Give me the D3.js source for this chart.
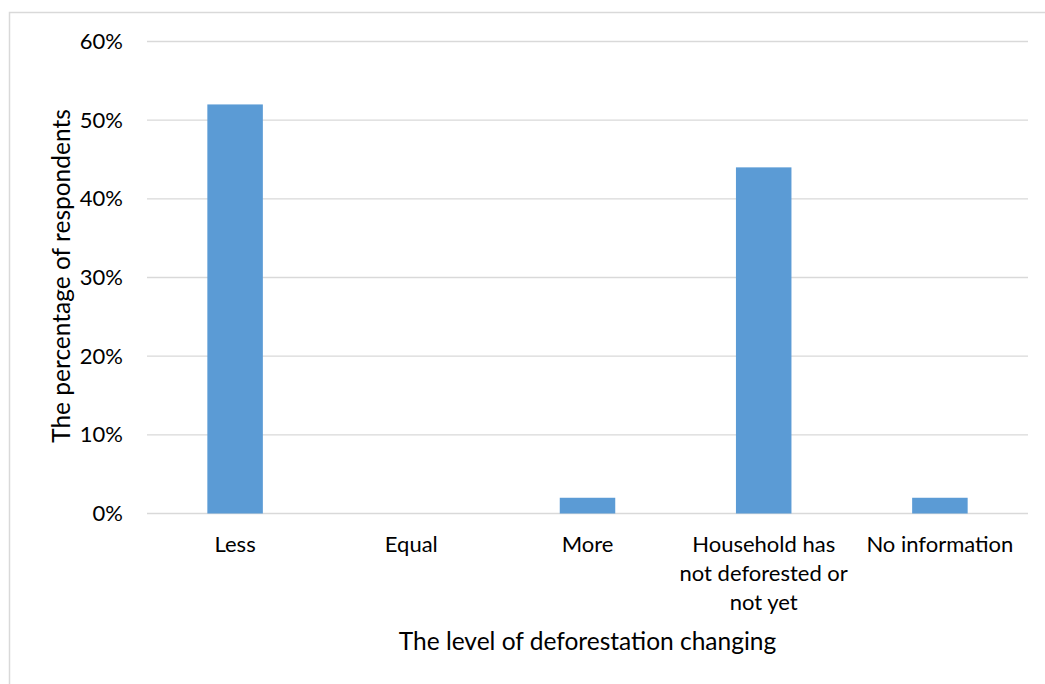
<!DOCTYPE html>
<html><head><meta charset="utf-8">
<script src="https://cdn.jsdelivr.net/npm/d3@7"></script>
<style>body{margin:0;background:#fff;} svg{display:block;} text{font-family:Lato, "Open Sans", sans-serif;fill:#000;}</style>
</head><body>
<svg id="c" width="1045" height="684"></svg>
<script>
const categories = ["Less", "Equal", "More", "Household has not deforested or not yet", "No information"];
const categoryLines = [["Less"], ["Equal"], ["More"], ["Household has", "not deforested or", "not yet"], ["No information"]];
const values = [0.52, 0, 0.02, 0.44, 0.02];
const yTicks = [0, 0.1, 0.2, 0.3, 0.4, 0.5, 0.6];
const xTitle = "The level of deforestation changing";
const yTitle = "The percentage of respondents";

const svg = d3.select("#c");
svg.append("rect").attr("x", 9.5).attr("y", 12.5).attr("width", 1045).attr("height", 700)
  .attr("fill", "none").attr("stroke", "#d9d9d9").attr("stroke-width", 1.5);

const pL = 147, pR = 1028, pT = 41.5, pB = 513.5;
const x = d3.scaleBand().domain(categories).range([pL, pR]).paddingInner(0.685).paddingOuter(0.3425);
const y = d3.scaleLinear().domain([0, 0.6]).range([pB, pT]);

const grid = svg.append("g");
grid.selectAll("line").data(yTicks).join("line")
  .attr("x1", pL).attr("x2", pR)
  .attr("y1", d => y(d)).attr("y2", d => y(d))
  .attr("stroke", "#d9d9d9").attr("stroke-width", 1.3);

const yAxis = svg.append("g").attr("transform", `translate(${pL},0)`)
  .call(d3.axisLeft(y).tickValues(yTicks).tickFormat(d3.format(".0%")).tickSize(0).tickPadding(24));
yAxis.select(".domain").remove();
yAxis.selectAll("text").style("font-size", "22px").style("font-family", "Lato, sans-serif").attr("fill", "#000");

svg.append("g").selectAll("rect").data(values).join("rect")
  .attr("x", (d, i) => x(categories[i]))
  .attr("width", x.bandwidth())
  .attr("y", d => y(d))
  .attr("height", d => y(0) - y(d))
  .attr("fill", "#5b9bd5");

const xl = svg.append("g");
categoryLines.forEach((lines, i) => {
  const cx = x(categories[i]) + x.bandwidth() / 2;
  const t = xl.append("text").attr("text-anchor", "middle").style("font-size", "22px");
  lines.forEach((ln, j) => {
    t.append("tspan").attr("x", cx).attr("y", 552 + j * 29).text(ln);
  });
});

svg.append("text").attr("x", (pL + pR) / 2).attr("y", 650).attr("text-anchor", "middle")
  .style("font-size", "24.5px").text(xTitle);

svg.append("text").attr("transform", `translate(70,${276}) rotate(-90)`)
  .attr("text-anchor", "middle").style("font-size", "24.5px").text(yTitle);
</script>
</body></html>
